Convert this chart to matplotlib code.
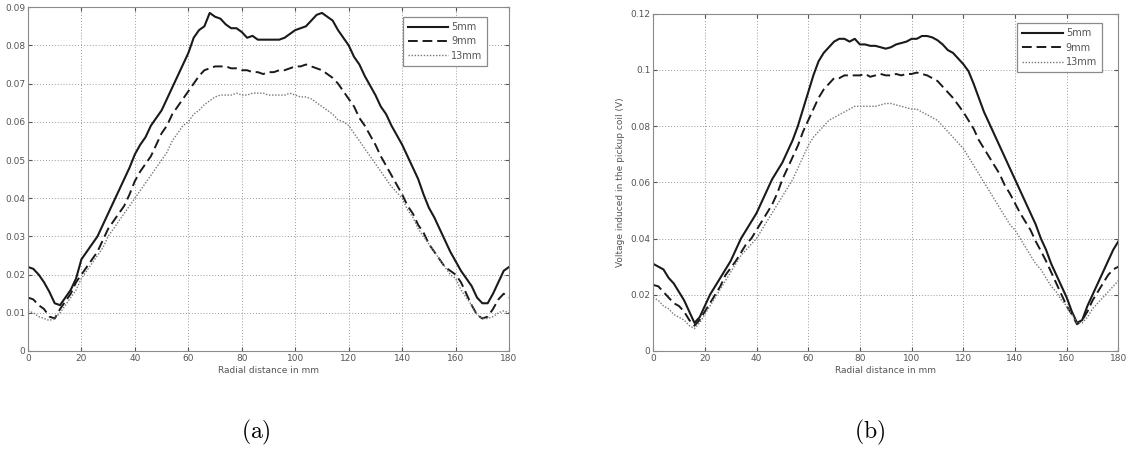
"""Two side-by-side line charts: pickup-coil voltage vs radial distance, (a) and (b)."""
import matplotlib
matplotlib.use("Agg")
import matplotlib.pyplot as plt
import numpy as np

plt.rcParams["font.family"] = ["DejaVu Sans"]
plt.rcParams["mathtext.fontset"] = "cm"

# radial positions, mm (every 2 mm)
x_mm = np.arange(0, 181, 2)

# ---- panel (a) ----
a_5mm = [0.022, 0.0215, 0.020, 0.018, 0.0155, 0.0125, 0.012, 0.014, 0.016, 0.019,
         0.024, 0.026, 0.028, 0.030, 0.033, 0.036, 0.039, 0.042, 0.045, 0.048,
         0.0515, 0.054, 0.056, 0.059, 0.061, 0.063, 0.066, 0.069, 0.072, 0.075,
         0.078, 0.082, 0.084, 0.085, 0.0885, 0.0875, 0.087, 0.0855, 0.0845, 0.0845,
         0.0835, 0.082, 0.0825, 0.0815, 0.0815, 0.0815, 0.0815, 0.0815, 0.082, 0.083,
         0.084, 0.0845, 0.085, 0.0865, 0.088, 0.0885, 0.0875, 0.0865, 0.084, 0.082,
         0.080, 0.077, 0.075, 0.072, 0.0695, 0.067, 0.064, 0.062, 0.059, 0.0565,
         0.054, 0.051, 0.048, 0.045, 0.041, 0.0375, 0.035, 0.032, 0.029, 0.026,
         0.0235, 0.021, 0.019, 0.017, 0.014, 0.0125, 0.0125, 0.015, 0.018, 0.021, 0.022]
a_9mm = [0.014, 0.0135, 0.012, 0.011, 0.009, 0.0085, 0.011, 0.013, 0.015, 0.018,
         0.020, 0.022, 0.024, 0.026, 0.029, 0.032, 0.034, 0.036, 0.038, 0.041,
         0.0445, 0.047, 0.049, 0.051, 0.054, 0.057, 0.059, 0.062, 0.064, 0.066,
         0.068, 0.070, 0.072, 0.0735, 0.074, 0.0745, 0.0745, 0.0745, 0.074, 0.074,
         0.0735, 0.0735, 0.073, 0.073, 0.0725, 0.073, 0.073, 0.0735, 0.0735, 0.074,
         0.0745, 0.0745, 0.075, 0.0745, 0.074, 0.0735, 0.0725, 0.0715, 0.070, 0.068,
         0.066, 0.064, 0.061, 0.059, 0.0565, 0.054, 0.051, 0.0485, 0.046, 0.0435,
         0.041, 0.038, 0.036, 0.033, 0.031, 0.028, 0.026, 0.024, 0.022, 0.021,
         0.020, 0.018, 0.015, 0.012, 0.0095, 0.0085, 0.009, 0.011, 0.0135, 0.015, 0.014]
a_13mm = [0.0105, 0.010, 0.009, 0.0085, 0.008, 0.0085, 0.010, 0.012, 0.014, 0.016,
          0.019, 0.021, 0.023, 0.025, 0.027, 0.030, 0.032, 0.034, 0.036, 0.038,
          0.040, 0.042, 0.044, 0.046, 0.048, 0.050, 0.052, 0.055, 0.057, 0.059,
          0.060, 0.062, 0.063, 0.0645, 0.0655, 0.0665, 0.067, 0.067, 0.067, 0.0675,
          0.067, 0.067, 0.0675, 0.0675, 0.0675, 0.067, 0.067, 0.067, 0.067, 0.0675,
          0.067, 0.0665, 0.0665, 0.066, 0.065, 0.064, 0.063, 0.062, 0.0605, 0.060,
          0.059, 0.057, 0.055, 0.053, 0.051, 0.049, 0.047, 0.045, 0.043, 0.0415,
          0.040, 0.037, 0.035, 0.032, 0.030, 0.028, 0.026, 0.024, 0.022, 0.020,
          0.019, 0.016, 0.014, 0.012, 0.0095, 0.0085, 0.0085, 0.009, 0.010, 0.0105, 0.010]

# ---- panel (b) ----
b_5mm = [0.031, 0.030, 0.029, 0.026, 0.024, 0.021, 0.018, 0.014, 0.010, 0.012,
         0.016, 0.020, 0.023, 0.026, 0.029, 0.032, 0.036, 0.040, 0.043, 0.046,
         0.049, 0.053, 0.057, 0.061, 0.064, 0.067, 0.071, 0.075, 0.080, 0.086,
         0.092, 0.098, 0.103, 0.106, 0.108, 0.110, 0.111, 0.111, 0.110, 0.111,
         0.109, 0.109, 0.1085, 0.1085, 0.108, 0.1075, 0.108, 0.109, 0.1095, 0.110,
         0.111, 0.111, 0.112, 0.112, 0.1115, 0.1105, 0.109, 0.107, 0.106, 0.104,
         0.102, 0.0995, 0.095, 0.090, 0.085, 0.081, 0.077, 0.073, 0.069, 0.065,
         0.061, 0.057, 0.053, 0.049, 0.045, 0.040, 0.036, 0.031, 0.027, 0.023,
         0.019, 0.014, 0.010, 0.011, 0.016, 0.020, 0.024, 0.028, 0.032, 0.036, 0.039]
b_9mm = [0.0235, 0.023, 0.021, 0.019, 0.017, 0.016, 0.014, 0.011, 0.009, 0.011,
         0.014, 0.017, 0.020, 0.023, 0.027, 0.0295, 0.032, 0.035, 0.038, 0.040,
         0.043, 0.046, 0.049, 0.052, 0.056, 0.061, 0.065, 0.069, 0.073, 0.078,
         0.082, 0.086, 0.090, 0.093, 0.095, 0.097, 0.097, 0.098, 0.098, 0.098,
         0.098, 0.0985, 0.0975, 0.098, 0.0985, 0.098, 0.098, 0.0985, 0.098, 0.0985,
         0.0985, 0.099, 0.0985, 0.098, 0.097, 0.096, 0.094, 0.092, 0.090, 0.0875,
         0.085, 0.082, 0.079, 0.075, 0.072, 0.069, 0.066, 0.063, 0.059, 0.056,
         0.0525, 0.049, 0.046, 0.043, 0.039, 0.0356, 0.032, 0.028, 0.024, 0.020,
         0.016, 0.013, 0.0095, 0.011, 0.014, 0.018, 0.021, 0.024, 0.027, 0.029, 0.030]
b_13mm = [0.019, 0.018, 0.016, 0.015, 0.013, 0.012, 0.011, 0.009, 0.008, 0.010,
          0.013, 0.016, 0.019, 0.022, 0.025, 0.028, 0.031, 0.034, 0.036, 0.038,
          0.040, 0.043, 0.046, 0.049, 0.052, 0.055, 0.058, 0.061, 0.065, 0.069,
          0.073, 0.076, 0.078, 0.080, 0.082, 0.083, 0.084, 0.085, 0.086, 0.087,
          0.087, 0.087, 0.087, 0.087, 0.0875, 0.088, 0.088, 0.0875, 0.087, 0.0865,
          0.086, 0.086, 0.085, 0.084, 0.083, 0.082, 0.080, 0.078, 0.076, 0.074,
          0.072, 0.069, 0.066, 0.063, 0.060, 0.057, 0.054, 0.051, 0.048, 0.045,
          0.043, 0.040, 0.037, 0.034, 0.031, 0.029, 0.026, 0.023, 0.021, 0.018,
          0.016, 0.013, 0.010, 0.010, 0.012, 0.015, 0.017, 0.019, 0.021, 0.023, 0.025]

series_names = ["5mm", "9mm", "13mm"]
x_ticks = [0, 20, 40, 60, 80, 100, 120, 140, 160, 180]
a_yticks = [0, 0.01, 0.02, 0.03, 0.04, 0.05, 0.06, 0.07, 0.08, 0.09]
a_yticklabels = ["0", "0.01", "0.02", "0.03", "0.04", "0.05", "0.06", "0.07", "0.08", "0.09"]
b_yticks = [0, 0.02, 0.04, 0.06, 0.08, 0.1, 0.12]
b_yticklabels = ["0", "0.02", "0.04", "0.06", "0.08", "0.1", "0.12"]

styles = [dict(color="#1a1a1a", lw=1.5, ls="-"),
          dict(color="#1a1a1a", lw=1.4, ls=(0, (5, 2.5))),
          dict(color="#777777", lw=1.0, ls=(0, (1, 1.2)))]
frame = "#8a8a8a"
txt = "#555555"


def panel(ax, ys, yticks, yticklabels, ymax, legend_anchor):
    for y, name, st in zip(ys, series_names, styles):
        ax.plot(x_mm, y, label=name, **st)
    ax.set_xlim(0, 180); ax.set_ylim(0, ymax)
    ax.set_xticks(x_ticks); ax.set_yticks(yticks); ax.set_yticklabels(yticklabels)
    ax.grid(True, ls=(0, (1, 2)), color="#9a9a9a", lw=0.7)
    ax.tick_params(labelsize=6.5, colors=txt, length=3, direction="in", pad=2,
                   top=True, right=True)
    for s in ax.spines.values():
        s.set_color(frame); s.set_linewidth(0.8)
    ax.set_xlabel("Radial distance in mm", fontsize=6.5, color=txt, labelpad=2)
    leg = ax.legend(loc="upper right", bbox_to_anchor=legend_anchor, fontsize=7,
                    handlelength=4.2, handletextpad=0.3, labelspacing=0.45,
                    borderpad=0.5, fancybox=False, framealpha=1)
    leg.get_frame().set_edgecolor(frame); leg.get_frame().set_linewidth(0.9)
    for t in leg.get_texts():
        t.set_color(txt)


fig = plt.figure(figsize=(11.28, 4.5), dpi=100)
ax_a = fig.add_axes([0.0248, 0.22, 0.4265, 0.764])
ax_b = fig.add_axes([0.579, 0.22, 0.4125, 0.750])

panel(ax_a, [a_5mm, a_9mm, a_13mm], a_yticks, a_yticklabels, 0.09, (0.965, 0.985))
panel(ax_b, [b_5mm, b_9mm, b_13mm], b_yticks, b_yticklabels, 0.12, (0.975, 0.985))
ax_b.set_ylabel("Voltage induced in the pickup coil (V)", fontsize=6.5, color=txt, labelpad=4)

fig.text(0.227, 0.04, r"$\mathrm{(a)}$", fontsize=17, ha="center", va="center")
fig.text(0.771, 0.04, r"$\mathrm{(b)}$", fontsize=17, ha="center", va="center")

fig.savefig("out.png", dpi=100)
